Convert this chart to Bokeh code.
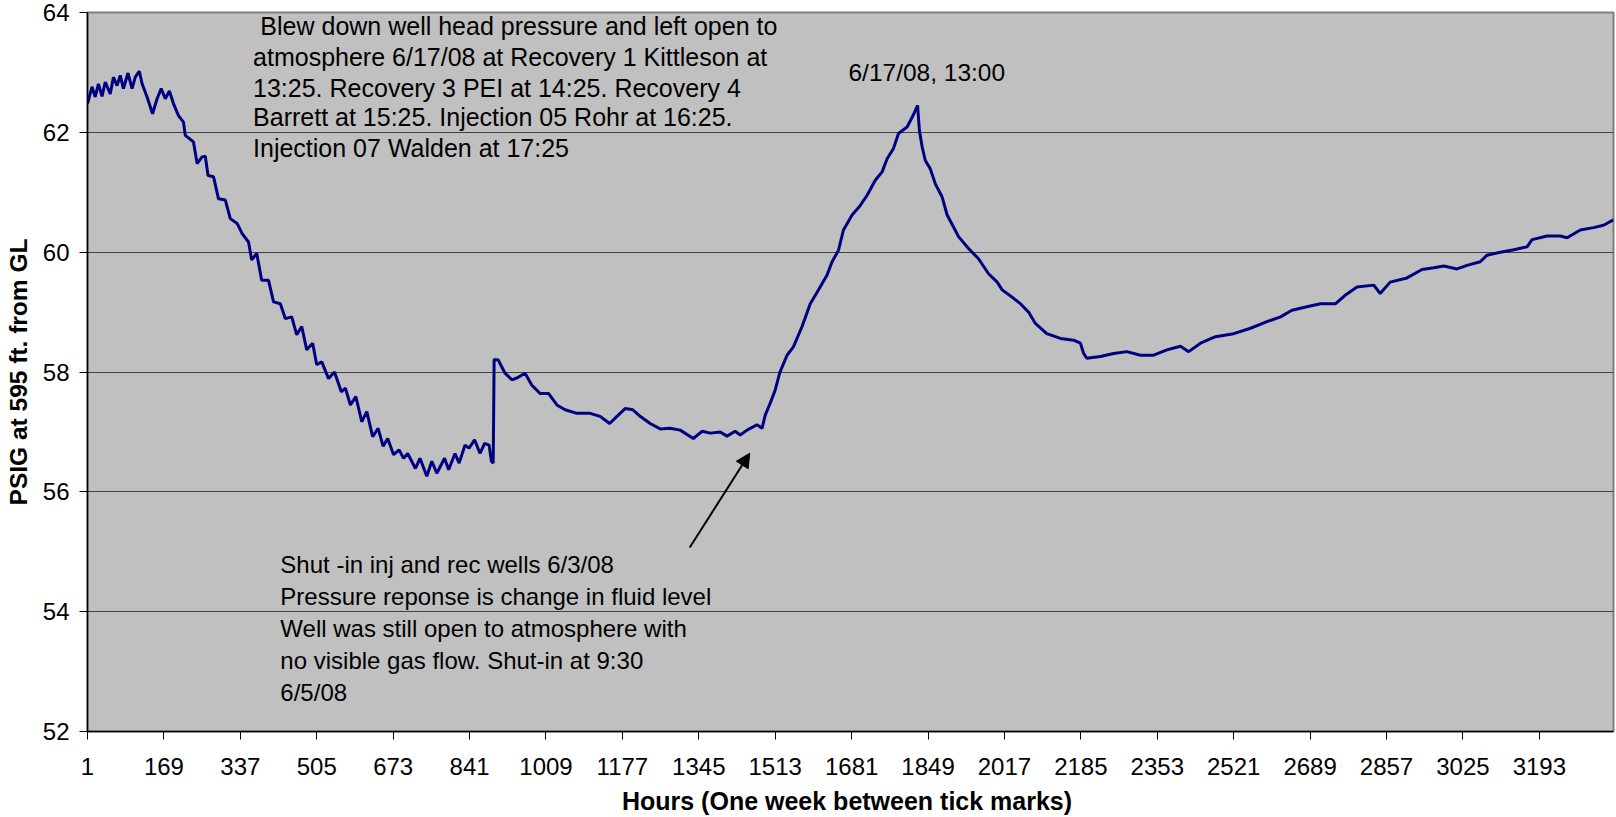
from bokeh.plotting import figure
from bokeh.models import Range1d, FixedTicker, Label, Arrow, NormalHead
from bokeh.embed import file_html
from bokeh.resources import INLINE

# ---------------- data ----------------
hours = [1, 11, 18, 25, 33, 40, 51, 58, 66, 73, 80, 90, 99, 106, 115, 121, 132, 144, 154, 163,
         172, 181, 190, 201, 212, 216, 234, 242, 253, 260, 266, 278, 289, 304, 315, 330, 341, 355,
         362, 373, 384, 399, 410, 425, 436, 450, 461, 472, 483, 496, 505, 516, 531, 544, 559, 568,
         579, 591, 604, 615, 628, 640, 651, 661, 674, 686, 696, 705, 722, 732, 747, 758, 769, 786,
         795, 809, 818, 831, 840, 852, 864, 874, 884, 889, 893, 895, 904, 919, 934, 945, 963, 978,
         996, 1015, 1033, 1051, 1077, 1106, 1128, 1149, 1165, 1183, 1200, 1216, 1238, 1260, 1282,
         1304, 1333, 1352, 1370, 1392, 1407, 1425, 1436, 1451, 1473, 1484, 1491, 1502, 1513, 1523,
         1539, 1553, 1572, 1590, 1608, 1627, 1638, 1652, 1663, 1682, 1700, 1715, 1733, 1748, 1759,
         1773, 1784, 1803, 1816, 1826, 1830, 1836, 1843, 1854, 1865, 1880, 1891, 1905, 1916, 1938,
         1960, 1982, 2001, 2012, 2037, 2052, 2070, 2085, 2110, 2140, 2169, 2184, 2191, 2198, 2228,
         2257, 2286, 2316, 2345, 2374, 2404, 2422, 2448, 2481, 2521, 2558, 2594, 2624, 2649, 2682,
         2712, 2745, 2766, 2792, 2829, 2843, 2865, 2902, 2935, 2961, 2983, 3012, 3034, 3063, 3078,
         3107, 3137, 3166, 3177, 3210, 3239, 3254, 3283, 3312, 3334, 3356]

psig = [62.48, 62.76, 62.59, 62.81, 62.60, 62.84, 62.64, 62.92, 62.78, 62.95, 62.73, 62.99, 62.73,
        62.92, 63.02, 62.81, 62.59, 62.31, 62.56, 62.73, 62.56, 62.69, 62.48, 62.28, 62.17, 61.95,
        61.84, 61.48, 61.59, 61.60, 61.28, 61.26, 60.89, 60.87, 60.56, 60.48, 60.31, 60.17, 59.87,
        59.98, 59.53, 59.53, 59.17, 59.14, 58.89, 58.92, 58.62, 58.76, 58.37, 58.48, 58.12, 58.17,
        57.89, 58.00, 57.67, 57.73, 57.45, 57.59, 57.17, 57.34, 56.92, 57.06, 56.76, 56.89, 56.62,
        56.70, 56.56, 56.64, 56.39, 56.56, 56.26, 56.51, 56.31, 56.56, 56.37, 56.64, 56.48, 56.78,
        56.73, 56.87, 56.64, 56.81, 56.78, 56.51, 56.48, 58.21, 58.20, 57.98, 57.87, 57.90, 57.98,
        57.78, 57.64, 57.64, 57.45, 57.37, 57.31, 57.31, 57.26, 57.14, 57.26, 57.39, 57.37, 57.26,
        57.14, 57.05, 57.06, 57.03, 56.89, 57.01, 56.98, 57.00, 56.93, 57.01, 56.95, 57.03, 57.12,
        57.06, 57.28, 57.48, 57.70, 57.99, 58.28, 58.42, 58.76, 59.14, 59.37, 59.62, 59.84, 60.03,
        60.37, 60.62, 60.78, 60.95, 61.20, 61.34, 61.56, 61.73, 61.98, 62.09, 62.28, 62.45, 62.03,
        61.76, 61.53, 61.39, 61.14, 60.92, 60.62, 60.42, 60.26, 60.06, 59.89, 59.64, 59.50, 59.37,
        59.23, 59.14, 59.00, 58.81, 58.64, 58.56, 58.53, 58.48, 58.31, 58.23, 58.26, 58.31, 58.34,
        58.28, 58.28, 58.37, 58.43, 58.34, 58.48, 58.59, 58.64, 58.73, 58.84, 58.92, 59.03, 59.09,
        59.14, 59.14, 59.28, 59.42, 59.45, 59.31, 59.50, 59.57, 59.71, 59.74, 59.77, 59.72, 59.78,
        59.84, 59.95, 60.00, 60.04, 60.09, 60.21, 60.27, 60.27, 60.24, 60.37, 60.41, 60.45, 60.54]

x_ticks = [1, 169, 337, 505, 673, 841, 1009, 1177, 1345, 1513, 1681, 1849, 2017, 2185, 2353,
           2521, 2689, 2857, 3025, 3193]
y_ticks = [52, 54, 56, 58, 60, 62, 64]

x_title = "Hours (One week  between tick marks)"
y_title = "PSIG at 595 ft. from GL"

top_note = [" Blew down well head pressure and left open to",
            "atmosphere 6/17/08 at Recovery 1 Kittleson at",
            "13:25. Recovery 3 PEI at 14:25. Recovery 4",
            "Barrett at 15:25. Injection 05 Rohr at 16:25.",
            "Injection 07 Walden at 17:25"]
peak_note = "6/17/08, 13:00"
bottom_note = ["Shut -in inj and rec wells 6/3/08",
               "Pressure reponse is change in fluid level",
               "Well was still open to atmosphere with",
               "no visible gas flow. Shut-in at 9:30",
               "6/5/08"]

FONT = "Liberation Sans"

# ---------------- figure ----------------
p = figure(width=1616, height=817, output_backend="svg", toolbar_location=None,
           x_range=Range1d(1, 3356), y_range=Range1d(52, 64),
           min_border_left=87, min_border_right=3, min_border_top=12, min_border_bottom=0)

p.background_fill_color = "#C0C0C0"
p.border_fill_color = "white"
p.outline_line_color = "#808080"
p.outline_line_width = 2

p.line(hours, psig, line_color="#000080", line_width=3)

for ax in (p.xaxis[0], p.yaxis[0]):
    ax.axis_line_color = "black"
    ax.axis_line_width = 1.5
    ax.major_tick_line_color = "black"
    ax.major_tick_line_width = 1
    ax.major_tick_out = 8
    ax.major_tick_in = 0
    ax.minor_tick_line_color = None
    ax.major_label_text_font = FONT
    ax.major_label_text_font_size = "24px"
    ax.major_label_text_color = "black"
    ax.axis_label_text_font = FONT
    ax.axis_label_text_font_style = "bold"
    ax.axis_label_text_color = "black"

p.xaxis.axis_label_text_font_size = "25px"
p.yaxis.axis_label_text_font_size = "24.5px"
p.xaxis.ticker = FixedTicker(ticks=x_ticks)
p.yaxis.ticker = FixedTicker(ticks=y_ticks)
p.xaxis.axis_label = x_title
p.yaxis.axis_label = y_title
p.xaxis.major_label_standoff = 18
p.xaxis.axis_label_standoff = 9
p.yaxis.major_label_standoff = 10
p.yaxis.axis_label_standoff = 8

p.xgrid.grid_line_color = None
p.ygrid.grid_line_color = "#404040"
p.ygrid.grid_line_width = 1

# ---------------- annotations ----------------
top_x = [381, 365, 365, 365, 365]
top_y = [63.767, 63.255, 62.745, 62.255, 61.745]
for tx, ty, t in zip(top_x, top_y, top_note):
    p.add_layout(Label(x=tx, y=ty, text=t.strip(), text_font=FONT, text_font_size="25px",
                       text_baseline="middle", text_color="black"))

p.add_layout(Label(x=1674, y=63.005, text=peak_note, text_font=FONT, text_font_size="24.5px",
                   text_baseline="middle", text_color="black"))

bot_y = [54.79, 54.258, 53.725, 53.192, 52.658]
for by, t in zip(bot_y, bottom_note):
    p.add_layout(Label(x=425, y=by, text=t, text_font=FONT, text_font_size="24px",
                       text_baseline="middle", text_color="black"))

p.add_layout(Arrow(x_start=1325, y_start=55.07, x_end=1457, y_end=56.645,
                   line_color="black", line_width=2,
                   end=NormalHead(size=14, fill_color="black", line_color="black")))

open("out.html", "w").write(file_html(p, INLINE))
